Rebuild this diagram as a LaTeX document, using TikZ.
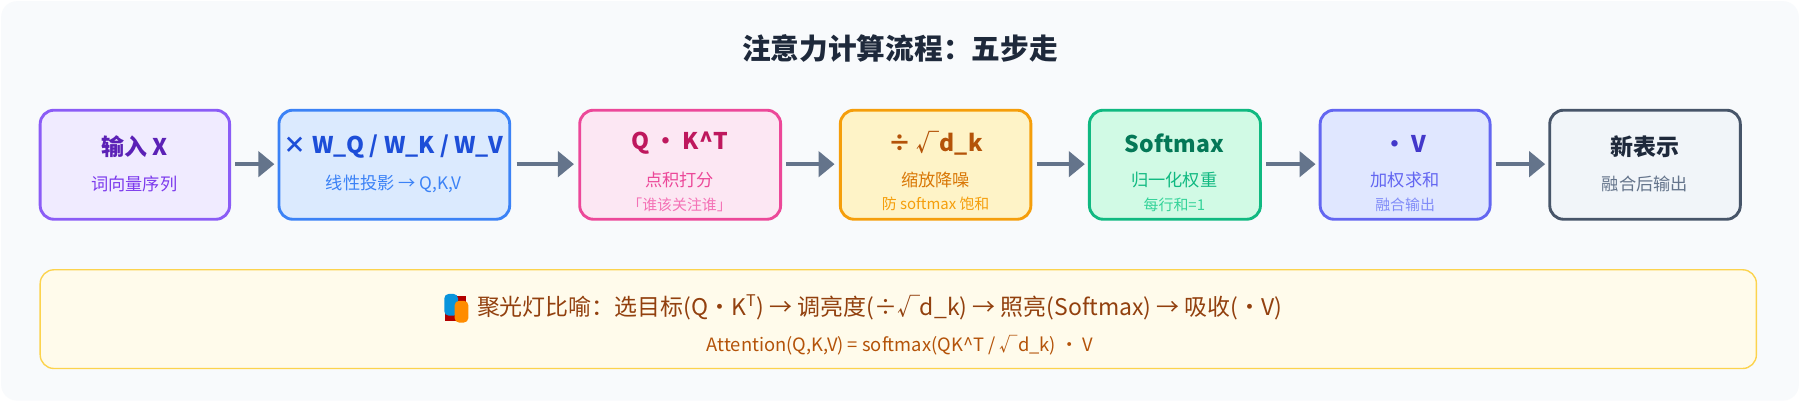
\documentclass[tikz,border=0pt]{standalone}
\usepackage{fontspec}
\setmainfont{Noto Sans CJK SC}
\usetikzlibrary{arrows.meta}
\definecolor{arr}{HTML}{64748B}
\tikzset{x=1pt,y=-1pt,
 box/.style={rounded corners=12pt,line width=2.5pt},
 ttl/.style={font=\fontsize{20}{24}\selectfont\bfseries},
 sub/.style={font=\fontsize{15}{18}\selectfont},
 thd/.style={font=\fontsize{13}{16}\selectfont},
 flow/.style={draw=arr,line width=3.5pt,-{Triangle[length=14pt,width=22pt]}}}
\begin{document}
\begin{tikzpicture}
\useasboundingbox (0,0) rectangle (1568,350);
\fill[rounded corners=14pt,fill=white] (0,0) rectangle (1568,350);
\fill[rounded corners=14pt,fill={rgb,255:red,248;green,250;blue,252}] (1,1) rectangle (1567,349);
\node[font=\fontsize{25}{30}\selectfont\bfseries,text={rgb,255:red,30;green,41;blue,59}] (title) at (784,42) {注意力计算流程：五步走};
% boxes
\draw[box,draw={rgb,255:red,139;green,92;blue,246},fill={rgb,255:red,240;green,235;blue,255}] (35,96) rectangle (200,191);
\node (b1) at (117,143) {};
\node[ttl,text={rgb,255:red,91;green,33;blue,182}] at (117,128) {输入 X};
\node[sub,text={rgb,255:red,124;green,58;blue,237}] at (117,160) {词向量序列};
\draw[box,draw={rgb,255:red,59;green,130;blue,246},fill={rgb,255:red,219;green,234;blue,254}] (243,96) rectangle (444,191);
\node (b2) at (343,143) {};
\node[ttl,text={rgb,255:red,29;green,78;blue,216}] at (343,128) {× W\_Q / W\_K / W\_V};
\node[sub,text={rgb,255:red,59;green,130;blue,246}] at (343,160) {线性投影 → Q,K,V};
\draw[box,draw={rgb,255:red,236;green,72;blue,153},fill={rgb,255:red,252;green,231;blue,243}] (505,96) rectangle (680,191);
\node (b3) at (592,143) {};
\node[ttl,text={rgb,255:red,190;green,24;blue,93}] at (592,125) {Q · K\^{}T};
\node[sub,text={rgb,255:red,236;green,72;blue,153}] at (592,157) {点积打分};
\node[thd,text={rgb,255:red,244;green,114;blue,182}] at (592,178) {「谁该关注谁」};
\draw[box,draw={rgb,255:red,245;green,158;blue,11},fill={rgb,255:red,254;green,243;blue,199}] (732,96) rectangle (898,191);
\node (b4) at (815,143) {};
\node[ttl,text={rgb,255:red,180;green,83;blue,9}] at (815,125) {÷ √d\_k};
\node[sub,text={rgb,255:red,217;green,119;blue,6}] at (815,157) {缩放降噪};
\node[thd,text={rgb,255:red,245;green,158;blue,11}] at (815,178) {防 softmax 饱和};
\draw[box,draw={rgb,255:red,16;green,185;blue,129},fill={rgb,255:red,209;green,250;blue,229}] (949,96) rectangle (1098,191);
\node (b5) at (1023,143) {};
\node[ttl,text={rgb,255:red,4;green,120;blue,87}] at (1023,125) {Softmax};
\node[sub,text={rgb,255:red,16;green,185;blue,129}] at (1023,157) {归一化权重};
\node[thd,text={rgb,255:red,52;green,211;blue,153}] at (1023,178) {每行和=1};
\draw[box,draw={rgb,255:red,99;green,102;blue,241},fill={rgb,255:red,224;green,231;blue,255}] (1150,96) rectangle (1298,191);
\node (b6) at (1224,143) {};
\node[ttl,text={rgb,255:red,67;green,56;blue,202}] at (1224,125) {· V};
\node[sub,text={rgb,255:red,99;green,102;blue,241}] at (1224,157) {加权求和};
\node[thd,text={rgb,255:red,129;green,140;blue,248}] at (1224,178) {融合输出};
\draw[box,draw={rgb,255:red,71;green,85;blue,105},fill={rgb,255:red,241;green,245;blue,249}] (1350,96) rectangle (1516,191);
\node (b7) at (1433,143) {};
\node[ttl,text={rgb,255:red,30;green,41;blue,59}] at (1433,128) {新表示};
\node[sub,text={rgb,255:red,100;green,116;blue,139}] at (1433,160) {融合后输出};
% arrows
\coordinate (a1s) at (205,143); \coordinate (a1e) at (239,143);
\coordinate (a2s) at (450,143); \coordinate (a2e) at (500,143);
\coordinate (a3s) at (685,143); \coordinate (a3e) at (727,143);
\coordinate (a4s) at (903,143); \coordinate (a4e) at (945,143);
\coordinate (a5s) at (1103,143); \coordinate (a5e) at (1146,143);
\coordinate (a6s) at (1303,143); \coordinate (a6e) at (1346,143);
\foreach \i in {1,...,6} \draw[flow] (a\i s) -- (a\i e);
% bottom
\draw[rounded corners=12pt,line width=1.2pt,draw={rgb,255:red,252;green,211;blue,77},fill={rgb,255:red,255;green,251;blue,235}] (35,235) rectangle (1530,321);
\node[font=\fontsize{20}{24}\selectfont,text={rgb,255:red,146;green,64;blue,14},anchor=west] (m1) at (412,268) {聚光灯比喻：选目标(Q·K\textsuperscript{T}) → 调亮度(÷√d\_k) → 照亮(Softmax) → 吸收(·V)};
\node[font=\fontsize{16}{20}\selectfont,text={rgb,255:red,180;green,83;blue,9}] (m2) at (784,301) {Attention(Q,K,V) = softmax(QK\^{}T / √d\_k) · V};
% mask emoji
\fill[red!70!black] (388,258) rectangle (406,280);
\fill[cyan!80!blue,rounded corners=4pt] (387,256) rectangle (399,275);
\fill[orange!90!yellow,rounded corners=4pt] (396,262) rectangle (408,281);
\end{tikzpicture}
\end{document}
